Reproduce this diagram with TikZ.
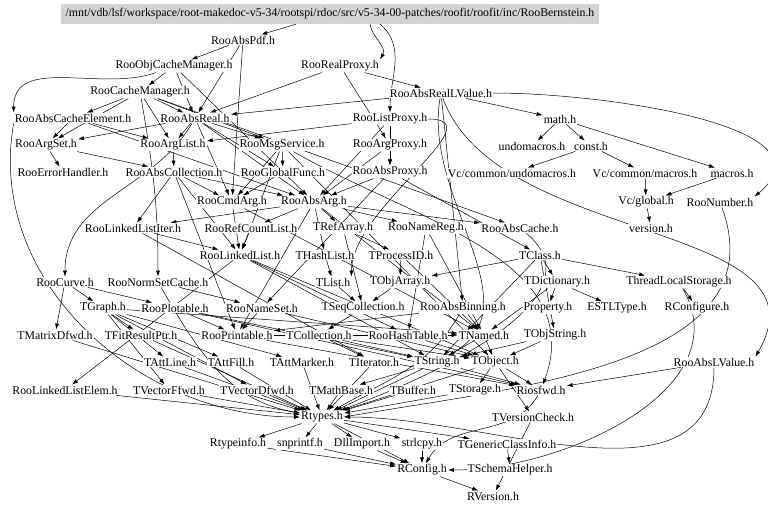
\documentclass[tikz,border=0pt]{standalone}
\usepackage{fontspec}
\setmainfont{Liberation Serif}
\usepackage{tikz}
\usetikzlibrary{positioning,backgrounds,arrows.meta}
\definecolor{hdrgray}{RGB}{211,211,211}
\tikzset{
  hfile/.style={inner sep=1pt,fill=white,font=\fontsize{11.8}{13}\selectfont},
  topfile/.style={hfile,fill=hdrgray,inner xsep=5pt,inner ysep=4.5pt},
  inc/.style={-{Latex[length=6pt,width=4pt]},line width=0.5pt}
}

\begin{document}
\begin{tikzpicture}[x=1pt,y=-1pt]
  \useasboundingbox (0,0) rectangle (768,512);
  \node[topfile] (top) at (330,14) {/mnt/vdb/lsf/workspace/root-makedoc-v5-34/rootspi/rdoc/src/v5-34-00-patches/roofit/roofit/inc/RooBernstein.h};
  \node[hfile] (absPdf) at (243,40) {RooAbsPdf.h};
  \node[hfile] (objCacheMgr) at (174,66) {RooObjCacheManager.h};
  \node[hfile] (realProxy) at (340,66) {RooRealProxy.h};
  \node[hfile] (cacheMgr) at (140,92) {RooCacheManager.h};
  \node[hfile] (absRealLV) at (441,93) {RooAbsRealLValue.h};
  \node[hfile] (absCacheElem) at (73,118) {RooAbsCacheElement.h};
  \node[hfile] (absReal) at (195,118) {RooAbsReal.h};
  \node[hfile] (listProxy) at (390,119) {RooListProxy.h};
  \node[hfile] (math) at (560,119) {math.h};
  \node[hfile] (argSet) at (46,145) {RooArgSet.h};
  \node[hfile] (argList) at (173,145) {RooArgList.h};
  \node[hfile] (msgService) at (282,145) {RooMsgService.h};
  \node[hfile] (argProxy) at (390,145) {RooArgProxy.h};
  \node[hfile] (undomacros) at (532,146) {undomacros.h};
  \node[hfile] (cst) at (591,146) {const.h};
  \node[hfile] (errHandler) at (63,172) {RooErrorHandler.h};
  \node[hfile] (absColl) at (174,172) {RooAbsCollection.h};
  \node[hfile] (globalFunc) at (283,172) {RooGlobalFunc.h};
  \node[hfile] (absProxy) at (390,172) {RooAbsProxy.h};
  \node[hfile] (vcUndomacros) at (512,173) {Vc/common/undomacros.h};
  \node[hfile] (vcMacros) at (645,173) {Vc/common/macros.h};
  \node[hfile] (macros) at (732,173) {macros.h};
  \node[hfile] (cmdArg) at (232,202) {RooCmdArg.h};
  \node[hfile] (absArg) at (314,202) {RooAbsArg.h};
  \node[hfile] (vcGlobal) at (646,202) {Vc/global.h};
  \node[hfile] (number) at (720,202) {RooNumber.h};
  \node[hfile] (llIter) at (133,228) {RooLinkedListIter.h};
  \node[hfile] (refCount) at (251,228) {RooRefCountList.h};
  \node[hfile] (refArray) at (343,228) {TRefArray.h};
  \node[hfile] (nameReg) at (426,228) {RooNameReg.h};
  \node[hfile] (absCache) at (520,228) {RooAbsCache.h};
  \node[hfile] (version) at (651,228) {version.h};
  \node[hfile] (linkedList) at (240,255) {RooLinkedList.h};
  \node[hfile] (hashList) at (325,255) {THashList.h};
  \node[hfile] (processID) at (401,255) {TProcessID.h};
  \node[hfile] (tclass) at (540,255) {TClass.h};
  \node[hfile] (curve) at (65,282) {RooCurve.h};
  \node[hfile] (normSetCache) at (158,282) {RooNormSetCache.h};
  \node[hfile] (tlist) at (333,282) {TList.h};
  \node[hfile] (objArray) at (400,282) {TObjArray.h};
  \node[hfile] (dictionary) at (557,282) {TDictionary.h};
  \node[hfile] (tls) at (679,282) {ThreadLocalStorage.h};
  \node[hfile] (graph) at (103,308) {TGraph.h};
  \node[hfile] (plotable) at (175,308) {RooPlotable.h};
  \node[hfile] (nameSet) at (262,308) {RooNameSet.h};
  \node[hfile] (seqColl) at (363,308) {TSeqCollection.h};
  \node[hfile] (absBinning) at (463,308) {RooAbsBinning.h};
  \node[hfile] (property) at (548,308) {Property.h};
  \node[hfile] (stlType) at (617,308) {ESTLType.h};
  \node[hfile] (rconfigure) at (697,308) {RConfigure.h};
  \node[hfile] (matrixDfwd) at (55,335) {TMatrixDfwd.h};
  \node[hfile] (fitResPtr) at (141,335) {TFitResultPtr.h};
  \node[hfile] (printable) at (237,335) {RooPrintable.h};
  \node[hfile] (collection) at (319,335) {TCollection.h};
  \node[hfile] (hashTable) at (408,335) {RooHashTable.h};
  \node[hfile] (named) at (484,335) {TNamed.h};
  \node[hfile] (objString) at (555,335) {TObjString.h};
  \node[hfile] (attLine) at (170,362) {TAttLine.h};
  \node[hfile] (attFill) at (231,362) {TAttFill.h};
  \node[hfile] (attMarker) at (302,362) {TAttMarker.h};
  \node[hfile] (iterator) at (374,362) {TIterator.h};
  \node[hfile] (tstring) at (437,362) {TString.h};
  \node[hfile] (tobject) at (495,362) {TObject.h};
  \node[hfile] (absLValue) at (714,362) {RooAbsLValue.h};
  \node[hfile] (llElem) at (65,390) {RooLinkedListElem.h};
  \node[hfile] (vecFfwd) at (169,390) {TVectorFfwd.h};
  \node[hfile] (vecDfwd) at (257,390) {TVectorDfwd.h};
  \node[hfile] (mathBase) at (341,390) {TMathBase.h};
  \node[hfile] (buffer) at (413,390) {TBuffer.h};
  \node[hfile] (storage) at (475,390) {TStorage.h};
  \node[hfile] (riosfwd) at (541,390) {Riosfwd.h};
  \node[hfile] (rtypes) at (322,417) {Rtypes.h};
  \node[hfile] (versionCheck) at (533,417) {TVersionCheck.h};
  \node[hfile] (rtypeinfo) at (238,444) {Rtypeinfo.h};
  \node[hfile] (snprintf) at (300,444) {snprintf.h};
  \node[hfile] (dllImport) at (362,444) {DllImport.h};
  \node[hfile] (strlcpy) at (422,444) {strlcpy.h};
  \node[hfile] (genClassInfo) at (507,444) {TGenericClassInfo.h};
  \node[hfile] (rconfig) at (422,470) {RConfig.h};
  \node[hfile] (schemaHelper) at (510,470) {TSchemaHelper.h};
  \node[hfile] (rversion) at (493,496) {RVersion.h};

  \begin{scope}[on background layer]
    % straight includes
    \foreach \a/\b in {top/absPdf,
      absPdf/objCacheMgr,absPdf/absReal,absPdf/cmdArg,
      objCacheMgr/cacheMgr,objCacheMgr/absReal,objCacheMgr/absArg,
      realProxy/absReal,realProxy/argProxy,realProxy/absRealLV,
      absRealLV/math,absRealLV/absReal,absRealLV/absBinning,
      math/undomacros,math/cst,math/macros,
      cst/vcUndomacros,cst/vcMacros,vcMacros/vcGlobal,macros/vcGlobal,vcGlobal/version,
      cacheMgr/absCacheElem,cacheMgr/absReal,cacheMgr/argList,cacheMgr/argSet,cacheMgr/msgService,cacheMgr/absCache,
      absCacheElem/argList,absCacheElem/argSet,absCacheElem/absArg,
      absReal/argList,absReal/argSet,absReal/msgService,absReal/globalFunc,absReal/absArg,absReal/cmdArg,
      listProxy/absArg,listProxy/argList,listProxy/absProxy,
      argSet/absColl,argSet/errHandler,argList/absColl,
      msgService/globalFunc,msgService/cmdArg,msgService/linkedList,msgService/tobject,
      argProxy/absProxy,argProxy/absArg,
      absColl/absArg,absColl/printable,absColl/linkedList,absColl/cmdArg,absColl/llIter,
      globalFunc/cmdArg,absProxy/tclass,absProxy/absArg,absProxy/nameSet,
      cmdArg/named,cmdArg/linkedList,
      absArg/named,absArg/hashList,absArg/refArray,absArg/printable,absArg/refCount,absArg/absCache,absArg/llIter,absArg/nameReg,
      llIter/iterator,llIter/linkedList,refCount/linkedList,
      refArray/seqColl,refArray/processID,nameReg/named,nameReg/hashTable,
      linkedList/tobject,linkedList/llElem,linkedList/hashTable,linkedList/tstring,
      hashList/tlist,processID/named,processID/objArray,
      tclass/dictionary,tclass/tstring,tclass/objArray,tclass/objString,tclass/tls,
      curve/graph,curve/plotable,curve/matrixDfwd,normSetCache/nameSet,
      tlist/seqColl,objArray/seqColl,
      dictionary/named,dictionary/property,dictionary/stlType,tls/rconfigure,
      graph/named,graph/attLine,graph/attFill,graph/attMarker,graph/vecFfwd,graph/vecDfwd,graph/fitResPtr,
      plotable/printable,plotable/riosfwd,plotable/tstring,
      nameSet/tobject,nameSet/printable,seqColl/collection,
      absBinning/named,absBinning/printable,
      matrixDfwd/rtypes,fitResPtr/rtypes,printable/riosfwd,printable/named,
      collection/tobject,collection/iterator,collection/tstring,
      hashTable/tobject,named/tobject,named/tstring,objString/tobject,objString/tstring,
      attLine/rtypes,attFill/rtypes,attMarker/rtypes,iterator/rtypes,
      tstring/mathBase,tstring/rtypes,tstring/riosfwd,
      tobject/rtypes,tobject/storage,tobject/versionCheck,tobject/riosfwd,
      absLValue/riosfwd,llElem/rtypes,
      vecFfwd/rtypes,vecDfwd/rtypes,mathBase/rtypes,buffer/rtypes,storage/rtypes,
      versionCheck/rversion,
      rtypes/rconfig,rtypes/rtypeinfo,rtypes/snprintf,rtypes/dllImport,rtypes/strlcpy,rtypes/genClassInfo,
      rtypeinfo/rconfig,snprintf/rconfig,dllImport/rconfig,strlcpy/rconfig,
      genClassInfo/schemaHelper,rconfig/rversion}
      \draw[inc] (\a) -- (\b);
    % routed includes
    \draw[inc] ([xshift=40pt]top.south) to[out=-80,in=60] (realProxy.north east);
    \draw[inc] ([xshift=50pt]top.south) to[out=-40,in=90] (listProxy);
    \draw[inc] (objCacheMgr) to[out=200,in=90] (absCacheElem.north west);
    \draw[inc] (absCacheElem.south west) to[out=-100,in=180] (rtypes);
    \draw[inc] (absReal) to[out=-120,in=90] (curve);
    \draw[inc] (cacheMgr) to[out=-80,in=90] (normSetCache);
    \draw[inc] (normSetCache) to[out=-60,in=170] (rtypes);
    \draw[inc] (absRealLV.east) to[out=0,in=40] (number.north east);
    \draw[inc] (absRealLV) to[out=-70,in=60] (absLValue.north east);
    \draw[inc] (absRealLV) to[out=-100,in=30] (tstring);
    \draw[inc] (listProxy.east) to[out=0,in=90] (tlist.north east);
    \draw[inc] (number) to[out=-70,in=10] (rtypes.east);
    \draw[inc] (absCache) to[out=-40,in=20] (rtypes);
    \draw[inc] (absBinning) to[out=-120,in=30] (rtypes);
    \draw[inc] (absLValue.south) to[out=-90,in=0] (rtypes.east);
    \draw[inc] (tls) to[out=-60,in=0] (rconfig);
    \draw[inc] (riosfwd) to[out=-120,in=60] (rconfig);
    \draw[inc] (msgService) to[out=-30,in=70] (riosfwd);
  \end{scope}
\end{tikzpicture}
\end{document}
